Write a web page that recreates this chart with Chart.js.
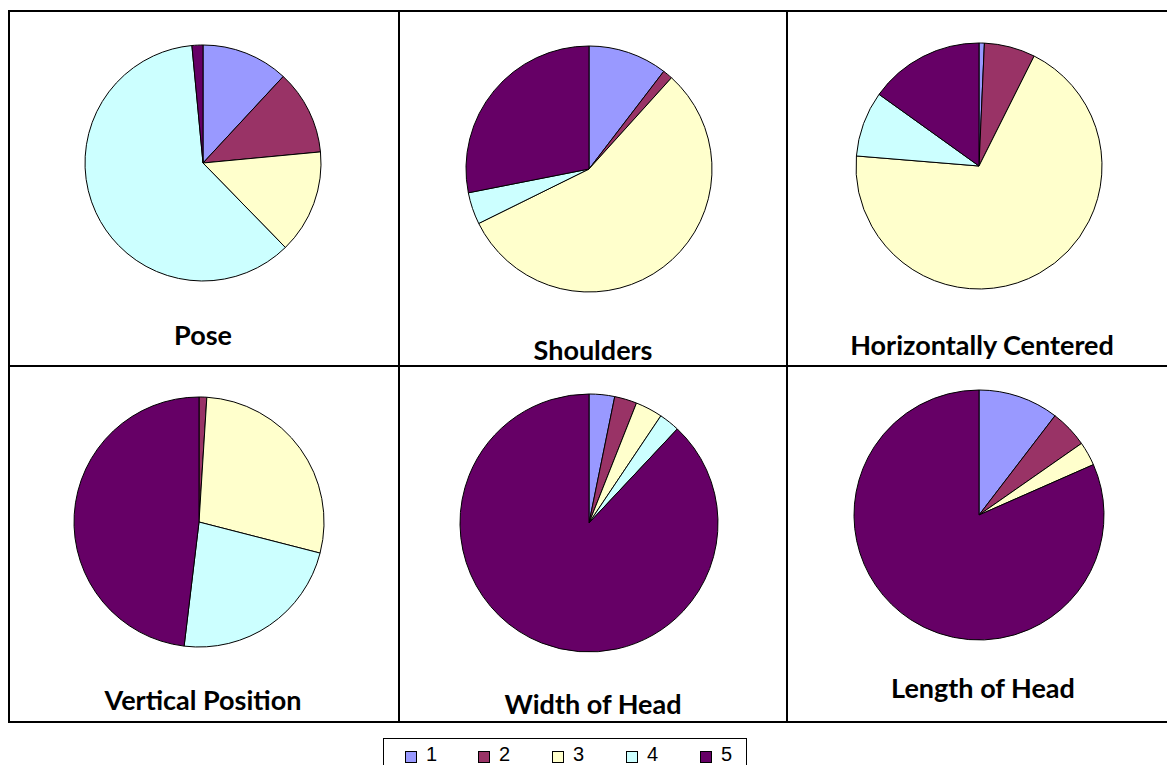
<!DOCTYPE html>
<html><head><meta charset="utf-8">
<script src="https://cdn.jsdelivr.net/npm/chart.js@4/dist/chart.umd.min.js"></script>
<style>
html,body{margin:0;padding:0;background:#fff;}
body{width:1167px;height:765px;overflow:hidden;position:relative;}
.hl{position:absolute;background:#000;height:2px;}
.vl{position:absolute;background:#000;width:2px;}
.title{position:absolute;font-family:Lato,"Open Sans",sans-serif;font-weight:bold;font-size:27px;color:#000;white-space:nowrap;transform:translate(-50%,-50%);line-height:1;}
canvas{position:absolute;}
#legend{position:absolute;left:383px;top:738px;width:364px;height:40px;border:1px solid #000;box-sizing:border-box;}
.item{position:absolute;top:12px;height:14px;font-family:"Liberation Sans",Arial,sans-serif;font-size:20px;color:#000;}
.sw{position:absolute;left:0;top:0px;width:12px;height:12px;border:1px solid #000;box-sizing:border-box;}
.lbl{position:absolute;left:21px;top:-7px;line-height:20px;}
</style>
</head><body>
<div class="hl" style="left:8px;top:10px;width:1159px"></div>
<div class="hl" style="left:8px;top:365px;width:1159px"></div>
<div class="hl" style="left:8px;top:721px;width:1159px"></div>
<div class="vl" style="left:8px;top:10px;height:713px"></div>
<div class="vl" style="left:398px;top:10px;height:713px"></div>
<div class="vl" style="left:786px;top:10px;height:713px"></div>
<div id="legend"></div>
<script>
const categories = ['1', '2', '3', '4', '5'];
const chartTitles = ['Pose', 'Shoulders', 'Horizontally Centered', 'Vertical Position', 'Width of Head', 'Length of Head'];
const pose = [11.9, 11.6, 14.2, 60.8, 1.5];
const shoulders = [10.4, 1.3, 56.0, 4.2, 28.1];
const horizontallyCentered = [0.7, 6.7, 68.9, 8.6, 15.1];
const verticalPosition = [0, 1.0, 28.0, 22.9, 48.1];
const widthOfHead = [3.2, 2.8, 3.4, 2.6, 88.0];
const lengthOfHead = [10.4, 4.9, 3.1, 0, 81.6];
const sliceColors = ['#9999FF', '#993366', '#FFFFCC', '#CCFFFF', '#660066'];

const seriesList = [pose, shoulders, horizontallyCentered, verticalPosition, widthOfHead, lengthOfHead];
// layout: pie center x, y, radius, title center x, y
const layout = [
  {cx: 203, cy: 163, r: 118, tx: 203, ty: 334},
  {cx: 589, cy: 169, r: 123, tx: 593, ty: 349},
  {cx: 979, cy: 166, r: 123, tx: 982, ty: 344},
  {cx: 199, cy: 522, r: 125, tx: 203, ty: 699},
  {cx: 589, cy: 523, r: 129, tx: 593, ty: 703},
  {cx: 979, cy: 515, r: 125, tx: 983, ty: 687}
];
const S = 280;
seriesList.forEach((data, i) => {
  const L = layout[i];
  const c = document.createElement('canvas');
  c.width = S; c.height = S;
  c.style.left = (L.cx - S / 2) + 'px';
  c.style.top = (L.cy - S / 2) + 'px';
  c.style.width = S + 'px'; c.style.height = S + 'px';
  document.body.appendChild(c);
  new Chart(c, {
    type: 'pie',
    data: {
      labels: categories,
      datasets: [{
        data: data,
        backgroundColor: sliceColors,
        borderColor: '#000000',
        borderWidth: 1,
        hoverOffset: 0
      }]
    },
    options: {
      responsive: false,
      animation: false,
      events: [],
      radius: L.r,
      layout: {padding: 0},
      plugins: {legend: {display: false}, tooltip: {enabled: false}, title: {display: false}}
    }
  });
  const t = document.createElement('div');
  t.className = 'title';
  t.textContent = chartTitles[i];
  t.style.left = L.tx + 'px';
  t.style.top = L.ty + 'px';
  document.body.appendChild(t);
});
const leg = document.getElementById('legend');
const itemX = [21, 94, 168, 242, 316];
categories.forEach((cat, i) => {
  const it = document.createElement('div');
  it.className = 'item';
  it.style.left = itemX[i] + 'px';
  const sw = document.createElement('div');
  sw.className = 'sw';
  sw.style.background = sliceColors[i];
  const lb = document.createElement('span');
  lb.className = 'lbl';
  lb.textContent = cat;
  it.appendChild(sw); it.appendChild(lb);
  leg.appendChild(it);
});
</script>
</body></html>
